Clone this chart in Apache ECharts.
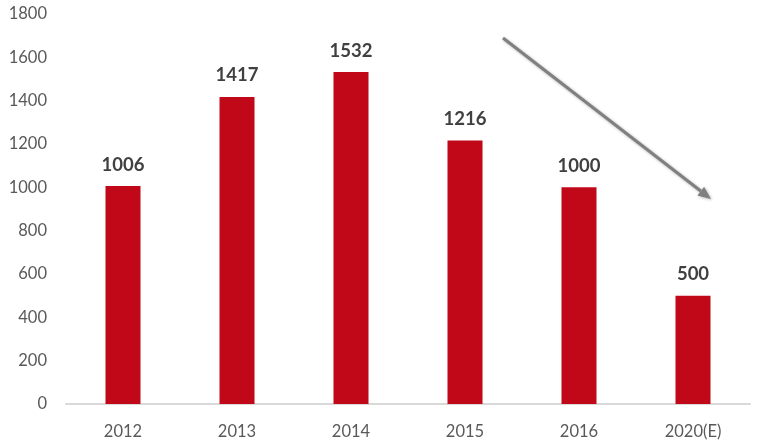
<!DOCTYPE html>
<html>
<head>
<meta charset="utf-8">
<script src="https://cdn.jsdelivr.net/npm/echarts@6/dist/echarts.min.js"></script>
<style>html,body{margin:0;padding:0;background:#fff;}#c{width:765px;height:445px;}</style>
</head>
<body>
<div id="c"></div>
<script>
var categories = ['2012', '2013', '2014', '2015', '2016', '2020(E)'];
var values = [1006, 1417, 1532, 1216, 1000, 500];
var yTicks = [0, 200, 400, 600, 800, 1000, 1200, 1400, 1600, 1800];

var chart = echarts.init(document.getElementById('c'));
var font = 'Lato, "Open Sans", sans-serif';
// arrow annotation geometry
var tip = [711, 199], start = [503, 38];
var dx = tip[0] - start[0], dy = tip[1] - start[1];
var len = Math.sqrt(dx * dx + dy * dy);
var ux = dx / len, uy = dy / len, nx = -uy, ny = ux;
var hl = 13, hw = 5.5;
var base = [tip[0] - hl * ux, tip[1] - hl * uy];
chart.setOption({
  animation: false,
  grid: { left: 66, right: 15, top: 14, bottom: 41 },
  xAxis: {
    type: 'category',
    data: categories,
    axisLine: { lineStyle: { color: '#d9d9d9', width: 2 } },
    axisTick: { show: false },
    axisLabel: { color: '#595959', fontSize: 16.5, fontFamily: font, margin: 19 }
  },
  yAxis: {
    type: 'value',
    min: yTicks[0],
    max: yTicks[yTicks.length - 1],
    interval: 200,
    splitLine: { show: false },
    axisLine: { show: false },
    axisTick: { show: false },
    axisLabel: { color: '#595959', fontSize: 16.5, fontFamily: font, margin: 19,
      formatter: function (v) { return String(v); } }
  },
  series: [{
    type: 'bar',
    data: values,
    barWidth: 35,
    itemStyle: { color: '#c00818' },
    label: {
      show: true,
      position: 'top',
      distance: 12,
      color: '#404040',
      fontWeight: 'bold',
      fontSize: 18.5,
      fontFamily: font
    }
  }],
  graphic: [
    {
      type: 'line',
      shape: { x1: start[0], y1: start[1], x2: base[0], y2: base[1] },
      style: { stroke: '#808080', lineWidth: 3, shadowBlur: 3, shadowColor: 'rgba(0,0,0,0.3)', shadowOffsetX: 1, shadowOffsetY: 1 }
    },
    {
      type: 'polygon',
      shape: { points: [tip, [base[0] + hw * nx, base[1] + hw * ny], [base[0] - hw * nx, base[1] - hw * ny]] },
      style: { fill: '#808080', shadowBlur: 3, shadowColor: 'rgba(0,0,0,0.3)', shadowOffsetX: 1, shadowOffsetY: 1 }
    }
  ]
});
</script>
</body>
</html>
